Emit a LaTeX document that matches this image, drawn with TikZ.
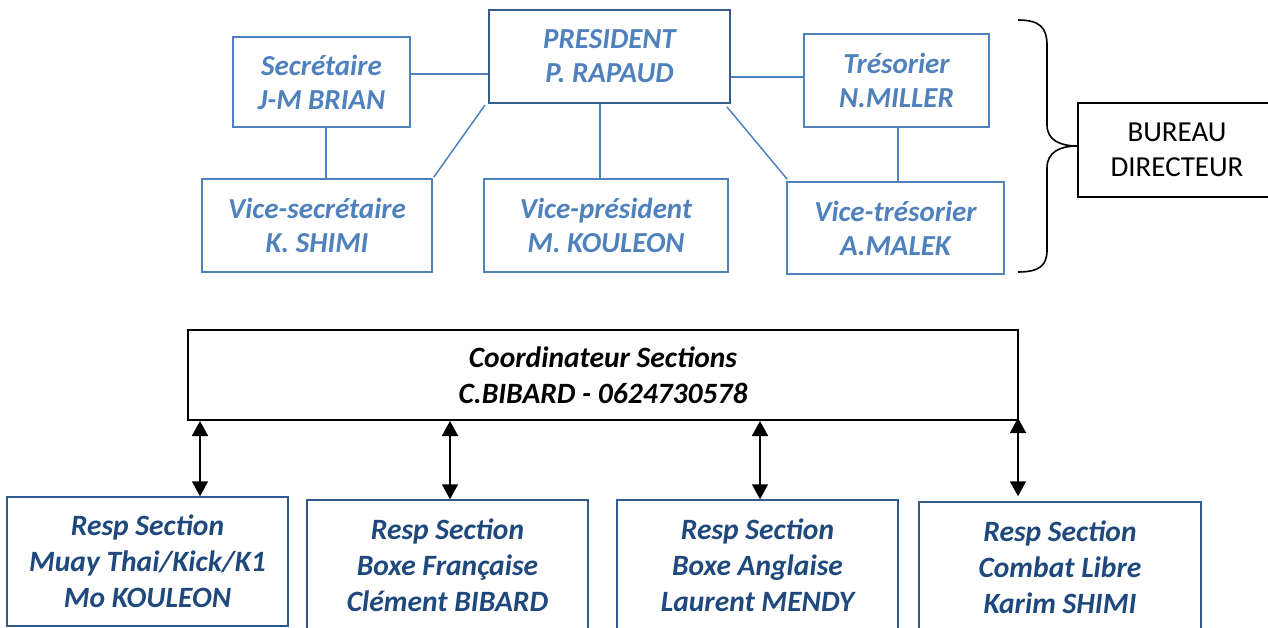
\documentclass[tikz,border=0pt]{standalone}
\usepackage{fontspec}
\setmainfont{Carlito}
\usetikzlibrary{arrows.meta}
\definecolor{topblue}{HTML}{4F81BD}
\definecolor{presblue}{HTML}{385D8A}
\definecolor{botblue}{HTML}{1F497D}
\definecolor{botline}{HTML}{2F5A8F}
\tikzset{
  topbox/.style={draw=topblue, line width=1.5pt, text=topblue, inner sep=0pt, align=center,
    font=\fontsize{29}{34}\selectfont\bfseries\itshape},
  presbox/.style={topbox, draw=presblue, line width=2pt},
  botbox/.style={draw=botline, line width=1.5pt, text=botblue, inner sep=0pt, align=center,
    font=\fontsize{29.5}{36}\selectfont\bfseries\itshape},
  coordbox/.style={draw=black, line width=2pt, text=black, inner sep=0pt, align=center,
    font=\fontsize{29.5}{36}\selectfont\bfseries\itshape},
  burbox/.style={draw=black, line width=1.5pt, inner sep=0pt, align=center,
    font=\fontsize{29}{35}\selectfont},
  link/.style={draw=topblue, line width=1.5pt},
  arr/.style={draw=black, line width=1.8pt, {Triangle[width=16pt,length=15pt]}-{Triangle[width=16pt,length=15pt]}},
  bracepath/.style={draw=black, line width=1.6pt}
}
\begin{document}
\begin{tikzpicture}[x=1pt,y=-1pt]
\useasboundingbox (0,0) rectangle (1268,628);
% top nodes
\node[topbox, minimum width=177pt, minimum height=90pt] (sec) at (321.5,82) {Secrétaire\\J-M BRIAN};
\node[presbox, minimum width=241pt, minimum height=93pt] (pres) at (609.5,56.5) {PRESIDENT\\P. RAPAUD};
\node[topbox, minimum width=185pt, minimum height=93pt] (tres) at (896.5,80.5) {Trésorier\\N.MILLER};
\node[topbox, minimum width=230pt, minimum height=93pt] (vsec) at (317,225.5) {Vice-secrétaire\\K. SHIMI};
\node[topbox, minimum width=244pt, minimum height=93pt] (vpres) at (606,225.5) {Vice-président\\M. KOULEON};
\node[topbox, minimum width=217pt, minimum height=92pt] (vtres) at (895.5,228) {Vice-trésorier\\A.MALEK};
\node[burbox, minimum width=198pt, minimum height=94pt] (bur) at (1177,150) {BUREAU\\DIRECTEUR};
% top links
\path[link] (sec.east |- 0,74) -- (pres.west |- 0,74);
\path[link] (pres.east |- 0,77) -- (tres.west |- 0,77);
\path[link] (sec.south -| 326,0) -- (vsec.north -| 326,0);
\path[link] (pres.south -| 600,0) -- (vpres.north -| 600,0);
\path[link] (tres.south -| 898,0) -- (vtres.north -| 898,0);
\path[link] ([shift={(-3,1)}]pres.south west) -- ([shift={(1,-1)}]vsec.north east);
\path[link] ([shift={(-4,3)}]pres.south east) -- ([shift={(1,-2)}]vtres.north west);
% brace
\coordinate (btop) at (1018,20);
\coordinate (bbot) at (1018,272);
\coordinate (btip) at (bur.west |- 0,146);
\path[bracepath] (btop) .. controls (1040,20) and (1047,28) .. (1047,45) -- (1047,125)
  .. controls (1047,140) and (1060,146) .. (btip)
  .. controls (1060,146) and (1047,152) .. (1047,168) -- (1047,250)
  .. controls (1047,265) and (1040,272) .. (bbot);
% bottom nodes
\node[coordbox, minimum width=830pt, minimum height=90pt] (coord) at (603,375) {Coordinateur Sections\\C.BIBARD - 0624730578};
\node[botbox, minimum width=281pt, minimum height=129pt] (r1) at (147.5,561.5) {Resp Section\\Muay Thai/Kick/K1\\Mo KOULEON};
\node[botbox, minimum width=281pt, minimum height=130pt] (r2) at (447.5,565) {Resp Section\\Boxe Française\\Clément BIBARD};
\node[botbox, minimum width=281pt, minimum height=130pt] (r3) at (757.5,565) {Resp Section\\Boxe Anglaise\\Laurent MENDY};
\node[botbox, minimum width=282pt, minimum height=131pt] (r4) at (1060,567.5) {Resp Section\\Combat Libre\\Karim SHIMI};
% arrows
\path[arr] (coord.south -| 200,0) -- (r1.north -| 200,0);
\path[arr] (coord.south -| 450,0) -- (r2.north -| 450,0);
\path[arr] (coord.south -| 760,0) -- (r3.north -| 760,0);
\path[arr, shorten <=-3pt, shorten >=5pt] (coord.south -| 1018,0) -- (r4.north -| 1018,0);
\end{tikzpicture}
\end{document}
